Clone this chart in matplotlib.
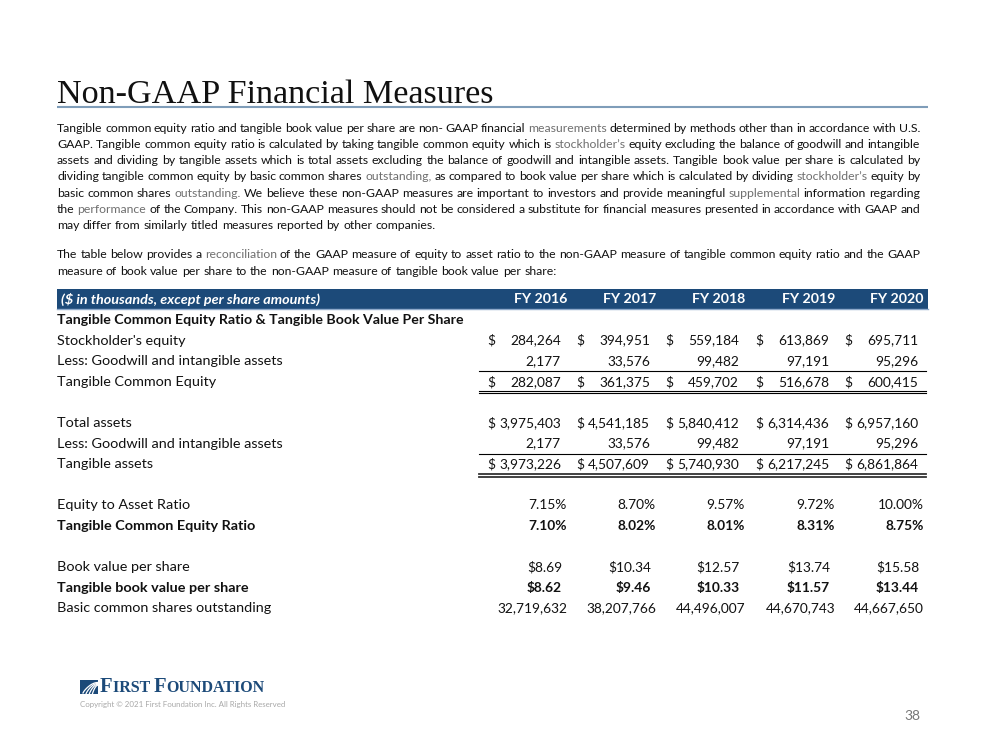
import numpy as np
import matplotlib
matplotlib.use("Agg")
import matplotlib.pyplot as plt
from matplotlib.patches import Rectangle

# ---- content -------------------------------------------------------------
TITLE = "Non-GAAP Financial Measures"

PARA1 = [
    "Tangible common equity ratio and tangible book value per share are non- GAAP financial measurements determined by methods other than in accordance with U.S.",
    "GAAP.  Tangible common equity ratio is calculated by taking tangible common equity which is stockholder’s equity excluding the balance of goodwill and intangible",
    "assets and dividing by tangible assets which is total assets excluding the balance of goodwill and intangible assets. Tangible book value per share is calculated by",
    "dividing tangible common equity by basic common shares outstanding, as compared to book value per share which is calculated by dividing stockholder’s equity by",
    "basic common shares outstanding.  We believe these non-GAAP measures are important to investors and  provide meaningful supplemental information regarding",
    "the performance of the Company.  This non-GAAP measures should not be considered a substitute for financial measures presented in accordance with GAAP and",
    "may differ from similarly titled measures reported by other companies.",
]
PARA2 = [
    "The table below provides a reconciliation of the GAAP measure of equity to asset ratio to the non-GAAP measure of tangible common equity ratio and the GAAP",
    "measure of book value per share to the non-GAAP measure of tangible book value per share:",
]
GRAY_WORDS = {"measurements", "stockholder’s", "outstanding", "supplemental",
              "performance", "reconciliation"}

HEADER_NOTE = "($ in thousands, except per share amounts)"
YEARS = ["FY 2016", "FY 2017", "FY 2018", "FY 2019", "FY 2020"]
SECTION = "Tangible Common Equity Ratio & Tangible Book Value Per Share"

STOCKHOLDERS_EQUITY = [284264, 394951, 559184, 613869, 695711]
GOODWILL = [2177, 33576, 99482, 97191, 95296]
TANGIBLE_COMMON_EQUITY = [282087, 361375, 459702, 516678, 600415]
TOTAL_ASSETS = [3975403, 4541185, 5840412, 6314436, 6957160]
TANGIBLE_ASSETS = [3973226, 4507609, 5740930, 6217245, 6861864]
EQUITY_TO_ASSET = [7.15, 8.70, 9.57, 9.72, 10.00]
TCE_RATIO = [7.10, 8.02, 8.01, 8.31, 8.75]
BOOK_VALUE_PS = [8.69, 10.34, 12.57, 13.74, 15.58]
TANGIBLE_BV_PS = [8.62, 9.46, 10.33, 11.57, 13.44]
SHARES_OUT = [32719632, 38207766, 44496007, 44670743, 44667650]

# (row index, label, values, kind, bold)
ROWS = [
    (1, "Stockholder's equity", STOCKHOLDERS_EQUITY, "dollar", False),
    (2, "Less: Goodwill and intangible assets", GOODWILL, "plain", False),
    (3, "Tangible Common Equity", TANGIBLE_COMMON_EQUITY, "dollar", False),
    (5, "Total assets", TOTAL_ASSETS, "dollar", False),
    (6, "Less: Goodwill and intangible assets", GOODWILL, "plain", False),
    (7, "Tangible assets", TANGIBLE_ASSETS, "dollar", False),
    (9, "Equity to Asset Ratio", EQUITY_TO_ASSET, "pct", False),
    (10, "Tangible Common Equity Ratio", TCE_RATIO, "pct", True),
    (12, "Book value per share", BOOK_VALUE_PS, "ps", False),
    (13, "Tangible book value per share", TANGIBLE_BV_PS, "ps", True),
    (14, "Basic common shares outstanding", SHARES_OUT, "count", False),
]

# ---- style ---------------------------------------------------------------
BODY = ["Lato", "DejaVu Sans"]
NAVY = "#1C4A79"
TEXT = "#111111"
GRAY = "#6f6f6f"

fig = plt.figure(figsize=(10, 7.5), dpi=100)
ax = fig.add_axes([0, 0, 1, 1])
ax.set_xlim(0, 1000)
ax.set_ylim(750, 0)
ax.axis("off")
renderer = fig.canvas.get_renderer()


def width_of(t):
    return t.get_window_extent(renderer).width


# title + rule
ax.text(57, 103, TITLE, family="Liberation Serif", fontsize=24.6, color="#111111",
        va="baseline", ha="left")
ax.plot([57, 928], [106.5, 106.5], color="#7F9DB9", lw=1.5, solid_capstyle="butt")


# justified paragraph text, word by word
def put_line(line, y, x0, x1, justify, size=8.85):
    words = line.split()
    arts = []
    for w in words:
        col = GRAY if w.strip(".,:") in GRAY_WORDS else TEXT
        arts.append(ax.text(0, y, w, family=BODY, fontsize=size, color=col,
                            va="baseline", ha="left"))
    widths = [width_of(t) for t in arts]
    space = size * 1.389 * 0.26
    if justify and len(words) > 1:
        gap = max((x1 - x0 - sum(widths)) / (len(words) - 1), space * 0.8)
    else:
        gap = space
    x = x0
    for t, w in zip(arts, widths):
        t.set_x(x)
        x += w + gap


for i, line in enumerate(PARA1):
    put_line(line, 131.5 + 16.3 * i, 57, 920, i < len(PARA1) - 1)
for i, line in enumerate(PARA2):
    put_line(line, 258.5 + 16.3 * i, 57, 920, i < len(PARA2) - 1)

# ---- table ---------------------------------------------------------------
COL_RIGHT = [567, 656, 745, 835, 924]
ROW_Y0, ROW_DY = 320, 20.6
FS = 10.4
NUM_FS = 9.9

ax.add_patch(Rectangle((57, 288.5), 871, 20.5, color=NAVY, lw=0))
ax.plot([57, 928], [309, 309], color="#8FAACB", lw=1)
ax.text(61, 299, HEADER_NOTE, family=BODY, fontsize=FS, color="white",
        fontweight="bold", fontstyle="italic", va="center", ha="left")
for xr, yr in zip(COL_RIGHT, YEARS):
    ax.text(xr, 299, yr, family=BODY, fontsize=10.2, color="white",
            fontweight="bold", va="center", ha="right")

ax.text(57, ROW_Y0, SECTION, family=BODY, fontsize=10.2, color=TEXT,
        fontweight="bold", va="center", ha="left")

for idx, label, vals, kind, bold in ROWS:
    y = ROW_Y0 + ROW_DY * idx
    fw = "bold" if bold else "normal"
    ax.text(57, y, label, family=BODY, fontsize=FS, color=TEXT, fontweight=fw,
            va="center", ha="left")
    for xr, v in zip(COL_RIGHT, vals):
        if kind in ("dollar", "plain"):
            s, xr2 = f"{v:,}", xr - 6
            if kind == "dollar":
                ax.text(xr - 80, y, "$", family=BODY, fontsize=NUM_FS, color=TEXT,
                        va="center", ha="left")
        elif kind == "pct":
            s, xr2 = f"{v:.2f}%", xr
        elif kind == "ps":
            s, xr2 = f"${v:.2f}", xr - 5
        else:
            s, xr2 = f"{v:,}", xr
        ax.text(xr2, y, s, family=BODY, fontsize=NUM_FS, color=TEXT, fontweight=fw,
                va="center", ha="right")

# underline rules
L0, L1 = 479, 926
ax.plot([L0, L1], [371, 371], color="black", lw=0.8)
ax.plot([L0, L1], [390.8, 390.8], color="black", lw=0.8)
ax.plot([L0, L1], [393.4, 393.4], color="black", lw=0.8)
ax.plot([L0, L1], [453.5, 453.5], color="black", lw=0.8)
ax.plot([L0, L1], [474, 474], color="#333333", lw=1.3)
ax.plot([L0, L1], [476.8, 476.8], color="#333333", lw=1.3)

# ---- footer logo ---------------------------------------------------------
ax.add_patch(Rectangle((80, 680), 18, 13.5, color=NAVY, lw=0))
for k in range(4):
    xs = np.linspace(83 + 3 * k, 98, 20)
    t = (xs - xs[0]) / (98 - xs[0])
    ys = 693 - 10.5 * np.sin(t * np.pi / 2) ** 0.8 + 3 * k * 0.3
    ax.plot(xs, ys, color="white", lw=0.9)

x = 100
for chunk, sz in [("F", 14.8), ("IRST ", 11.5), ("F", 14.8), ("OUNDATION", 11.5)]:
    t = ax.text(x, 692, chunk, family="Liberation Serif", fontsize=sz,
                fontweight="bold", color=NAVY, va="baseline", ha="left")
    x += width_of(t)

ax.text(80, 705, "Copyright © 2021 First Foundation Inc. All Rights Reserved",
        family=BODY, fontsize=5.7, color="#a8a8a8", va="center", ha="left")
ax.text(920, 716, "38", family=BODY, fontsize=10, color="#777777",
        va="center", ha="right")

fig.savefig("out.png", dpi=100, facecolor="white")
